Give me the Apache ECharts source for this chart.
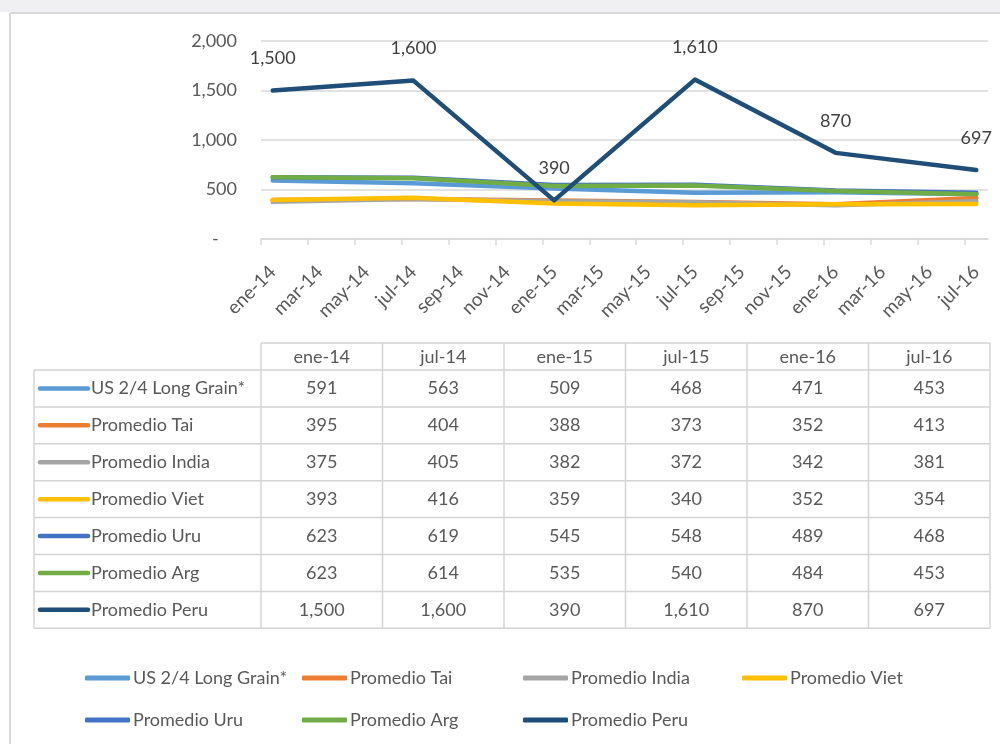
<!DOCTYPE html>
<html>
<head>
<meta charset="utf-8">
<script src="https://cdn.jsdelivr.net/npm/echarts@6/dist/echarts.min.js"></script>
<style>
  html, body { margin: 0; padding: 0; background: #fff; }
  #main { width: 1000px; height: 744px; }
</style>
</head>
<body>
<div id="main"></div>
<script>
  // columns of the data table (months with values)
  const columns = ['ene-14', 'jul-14', 'ene-15', 'jul-15', 'ene-16', 'jul-16']
  // axis labels, one every two months
  const tickLabels = ['ene-14', 'mar-14', 'may-14', 'jul-14', 'sep-14', 'nov-14', 'ene-15', 'mar-15',
    'may-15', 'jul-15', 'sep-15', 'nov-15', 'ene-16', 'mar-16', 'may-16', 'jul-16']
  const yTicks = [0, 500, 1000, 1500, 2000]

  const seriesNames = ['US 2/4 Long Grain*', 'Promedio Tai', 'Promedio India', 'Promedio Viet',
    'Promedio Uru', 'Promedio Arg', 'Promedio Peru']
  const usLongGrain = [591, 563, 509, 468, 471, 453]
  const promTai = [395, 404, 388, 373, 352, 413]
  const promIndia = [375, 405, 382, 372, 342, 381]
  const promViet = [393, 416, 359, 340, 352, 354]
  const promUru = [623, 619, 545, 548, 489, 468]
  const promArg = [623, 614, 535, 540, 484, 453]
  const promPeru = [1500, 1600, 390, 1610, 870, 697]

  const allValues = [usLongGrain, promTai, promIndia, promViet, promUru, promArg, promPeru]
  const colors = ['#5B9BD5', '#ED7D31', '#A5A5A5', '#FFC000', '#4472C4', '#70AD47', '#1F4E79']

  const FONT = 'Lato, "Open Sans", sans-serif'
  const TXT = '#595959'
  const fmt = v => v.toLocaleString('en-US')

  // month index of each column (labels are every 2 months), point sits mid-month
  const monthOf = c => tickLabels.indexOf(c) * 2
  const toPoints = vals => vals.map((v, i) => [monthOf(columns[i]) + 0.5, v])

  const series = seriesNames.map((name, i) => {
    const labelled = name === 'Promedio Peru'
    return {
      name: name,
      type: 'line',
      data: toPoints(allValues[i]),
      symbol: labelled ? 'circle' : 'none',
      symbolSize: 2,
      showSymbol: labelled,
      color: colors[i],
      lineStyle: { width: 4.5, color: colors[i], cap: 'round', join: 'round' },
      emphasis: { disabled: true },
      z: 2 + i,
      label: labelled ? {
        show: true,
        position: 'top',
        distance: 22,
        color: '#404040',
        fontFamily: FONT,
        fontSize: 18,
        formatter: p => fmt(p.value[1])
      } : { show: false }
    }
  })

  // data table below the chart
  const tb = { left: 34, colLeft: 261, right: 990, headTop: 343, bodyTop: 370, rowH: 36.9 }
  const colW = (tb.right - tb.colLeft) / columns.length
  const bottom = tb.bodyTop + tb.rowH * seriesNames.length
  const grid = '#D4D4D4'
  const graphics = []
  const line = (x1, y1, x2, y2) => graphics.push({
    type: 'line', shape: { x1, y1, x2, y2 }, style: { stroke: grid, lineWidth: 1.5 }, silent: true
  })
  const text = (t, x, y, align) => graphics.push({
    type: 'text', silent: true,
    style: { text: t, x, y, align: align, verticalAlign: 'middle', fill: TXT, fontSize: 18, fontFamily: FONT }
  })

  // frame of the chart area
  graphics.push({ type: 'rect', shape: { x: 0, y: 0, width: 1000, height: 12 }, style: { fill: '#F0F0F2' }, silent: true })
  graphics.push({ type: 'line', shape: { x1: 10, y1: 13, x2: 1000, y2: 13 }, style: { stroke: '#D9D9D9', lineWidth: 2 }, silent: true })
  graphics.push({ type: 'line', shape: { x1: 10, y1: 13, x2: 10, y2: 744 }, style: { stroke: '#D9D9D9', lineWidth: 2 }, silent: true })

  line(tb.colLeft, tb.headTop, tb.right, tb.headTop)
  for (let r = 0; r <= seriesNames.length; r++) {
    const y = tb.bodyTop + tb.rowH * r
    line(tb.left, y, tb.right, y)
  }
  line(tb.left, tb.bodyTop, tb.left, bottom)
  for (let c = 0; c <= columns.length; c++) {
    const x = tb.colLeft + colW * c
    line(x, tb.headTop, x, bottom)
  }
  columns.forEach((c, i) => text(c, tb.colLeft + colW * (i + 0.5), (tb.headTop + tb.bodyTop) / 2 + 1, 'center'))
  seriesNames.forEach((name, r) => {
    const y = tb.bodyTop + tb.rowH * (r + 0.5)
    graphics.push({
      type: 'line', silent: true,
      shape: { x1: 40, y1: y, x2: 88, y2: y },
      style: { stroke: colors[r], lineWidth: 4.5, lineCap: 'round' }
    })
    text(name, 91, y, 'left')
    allValues[r].forEach((v, i) => text(fmt(v), tb.colLeft + colW * (i + 0.5), y, 'center'))
  })

  // legend, 4 per row
  const legendX = [80, 297, 518, 737]
  const legendY = [664, 706]
  const legends = seriesNames.map((name, i) => ({
    data: [name],
    left: legendX[i % 4],
    top: legendY[Math.floor(i / 4)],
    icon: 'roundRect',
    itemWidth: 45,
    itemHeight: 5,
    selectedMode: false,
    textStyle: { color: TXT, fontSize: 18, fontFamily: FONT, padding: [0, 0, 0, -2] }
  }))

  const option = {
    animation: false,
    textStyle: { fontFamily: FONT },
    grid: { left: 261, top: 41, width: 727, height: 198, containLabel: false },
    legend: legends,
    xAxis: {
      type: 'value',
      min: 0,
      max: (tickLabels.length - 1) * 2 + 1,
      splitLine: { show: false },
      axisLine: { show: true, lineStyle: { color: '#D9D9D9', width: 1.5 } },
      axisTick: {
        show: true, length: 6, lineStyle: { color: '#D9D9D9', width: 1.5 },
        customValues: tickLabels.map((t, i) => i * 2)
      },
      axisLabel: {
        customValues: tickLabels.map((t, i) => i * 2 + 0.5),
        formatter: v => tickLabels[Math.floor(v / 2)],
        rotate: 45,
        margin: 30,
        color: TXT,
        fontSize: 19,
        fontFamily: FONT
      }
    },
    yAxis: {
      type: 'value',
      min: yTicks[0],
      max: yTicks[yTicks.length - 1],
      interval: 500,
      axisLine: { show: false },
      axisTick: { show: false },
      splitLine: { lineStyle: { color: '#D9D9D9', width: 1.5 } },
      axisLabel: {
        formatter: v => v === 0 ? '-    ' : fmt(v),
        margin: 24,
        color: TXT,
        fontSize: 18,
        fontFamily: FONT
      }
    },
    graphic: graphics,
    series: series
  }

  const chart = echarts.init(document.getElementById('main'))
  chart.setOption(option)
  window.addEventListener('resize', () => chart.resize())
</script>
</body>
</html>
